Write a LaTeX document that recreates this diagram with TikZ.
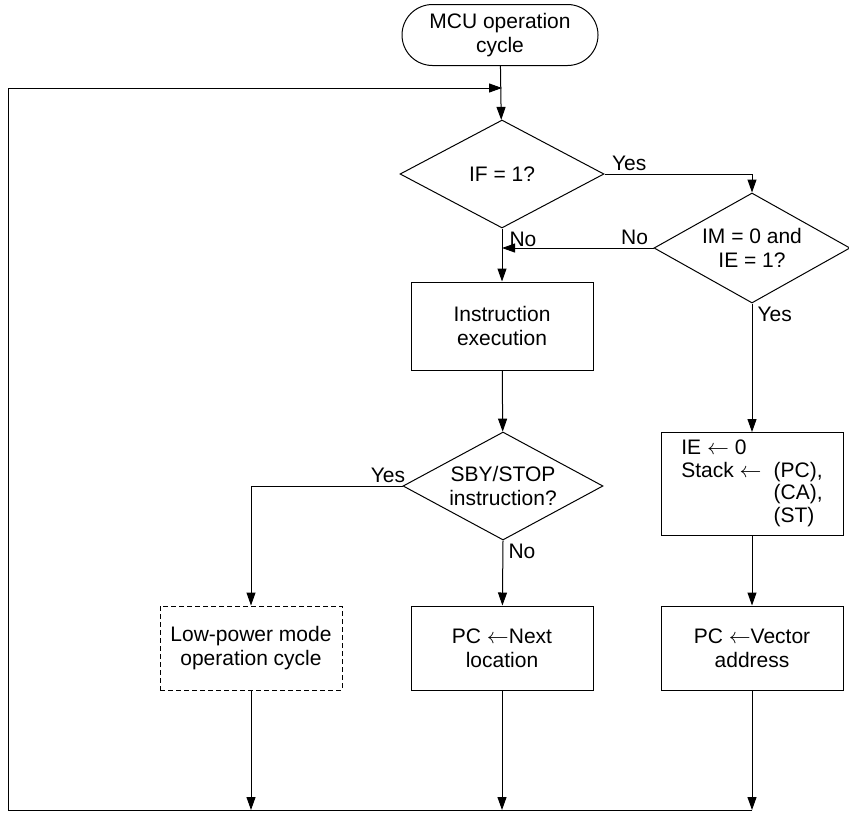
\documentclass[tikz,border=0pt]{standalone}
\usepackage{fontspec}
\setmainfont{Liberation Sans}
\usepackage{tikz}
\usetikzlibrary{shapes,arrows.meta,positioning}

\begin{document}
\begin{tikzpicture}[x=0.5pt, y=-0.5pt, line width=0.5pt,
        every node/.style={font=\fontsize{10.5}{12}\selectfont},
        terminal/.style={rounded rectangle, draw=black, minimum width=100pt, minimum height=30.5pt, align=center, inner sep=1pt},
        decision/.style={diamond, draw=black, shape aspect=2, inner sep=0pt, align=center},
        box/.style={rectangle, draw=black, minimum width=91pt, minimum height=42pt, align=center},
        lbl/.style={inner sep=1.5pt},
        arr/.style={-{Triangle[length=6.5pt,width=4.5pt]}}
    ]
        \useasboundingbox (0,0) rectangle (849,814);

        % Flow nodes
        \node[terminal] (start) at (500,35) {MCU operation\\cycle};
        \node[decision, minimum width=102pt, minimum height=54pt] (ifq) at (502,174) {IF = 1?};
        \node[decision, minimum width=98pt, minimum height=55pt] (imq) at (752,248) {IM = 0 and\\IE = 1?};
        \node[box, minimum height=44pt] (exec) at (502,326) {Instruction\\execution};
        \node[decision, minimum width=100pt, minimum height=54pt] (sbyq) at (503,486) {SBY/STOP\\instruction?};
        \node[box, minimum height=47pt, font=\fontsize{10.5}{11.2}\selectfont] (stack) at (752,484)
            {\begin{tabular}{@{}l@{\hspace{6pt}}l@{}}IE $\leftarrow$ 0 & \\ Stack $\leftarrow$ & (PC),\\ & (CA),\\ & (ST)\end{tabular}};
        \node[box, dash pattern=on 2.5pt off 1.5pt] (low) at (251,648) {Low-power mode\\operation cycle};
        \node[box] (next) at (502,648) {PC $\leftarrow$Next\\location};
        \node[box] (vector) at (752,648) {PC $\leftarrow$Vector\\address};

        % Loop coordinates
        \coordinate (loop) at (502,88);
        \coordinate (back) at (8,88);
        \coordinate (bl) at (8,810);
        \coordinate (b1) at (251,810);
        \coordinate (b2) at (502,810);
        \coordinate (b3) at (752,810);
        \coordinate (join) at (502,248);

        % Edges
        \draw[arr] (start) -- (ifq);
        \draw[arr] (ifq.south) -- (exec);
        \draw[arr] (ifq.east) -| (imq.north);
        \draw[arr] (imq.west) -- (join);
        \draw[arr] (imq.south) -- (stack);
        \draw[arr] (exec) -- (sbyq);
        \draw[arr] (sbyq.west) -| (low.north);
        \draw[arr] (sbyq.south) -- (next);
        \draw[arr] (stack) -- (vector);
        \draw[arr] (low) -- (b1);
        \draw[arr] (next) -- (b2);
        \draw[arr] (vector) -- (b3);
        \draw[arr] (b3) -- (bl) -- (back) -- (loop);

        % Edge labels
        \node[lbl, anchor=south west] (ifyes) at ([xshift=2pt]ifq.east) {Yes};
        \node[lbl, anchor=north west] (ifno) at ([xshift=2pt]ifq.south) {No};
        \node[lbl, anchor=south east] (imno) at ([xshift=-1pt]imq.west) {No};
        \node[lbl, anchor=north west] (imyes) at ([xshift=1pt]imq.south) {Yes};
        \node[lbl, anchor=south east] (sbyyes) at ([xshift=3pt]sbyq.west) {Yes};
        \node[lbl, anchor=north west] (sbyno) at ([xshift=1pt]sbyq.south) {No};
    \end{tikzpicture}
\end{document}
